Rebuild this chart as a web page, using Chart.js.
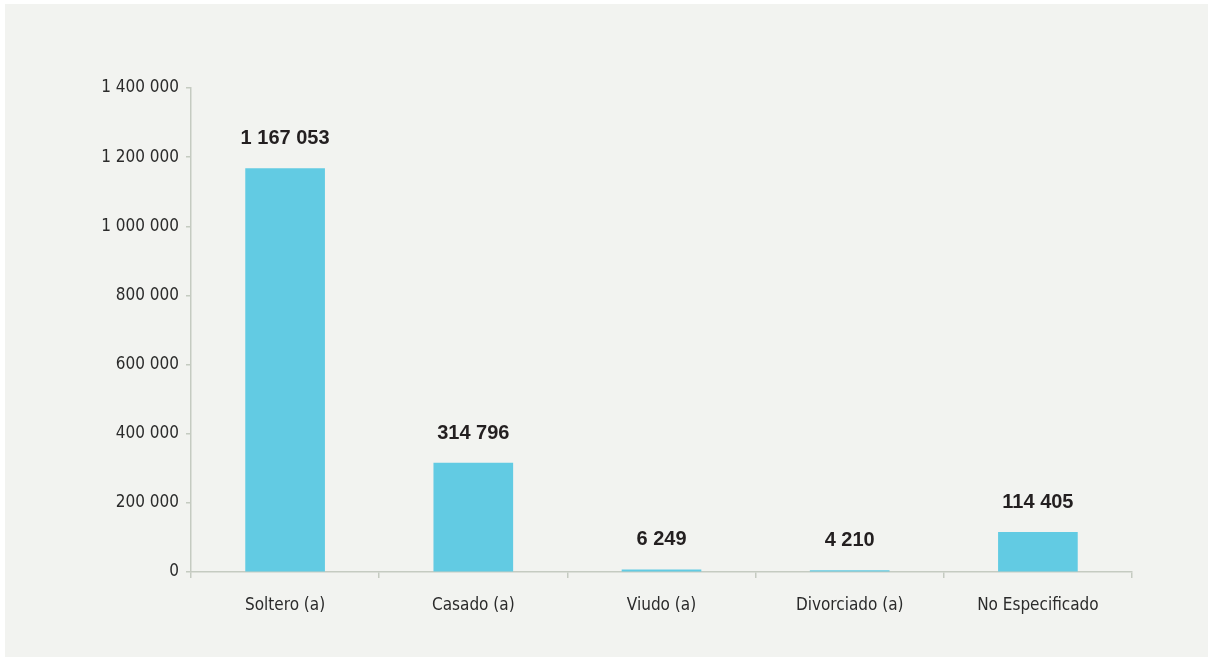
<!DOCTYPE html>
<html>
<head>
<meta charset="utf-8">
<script src="https://cdn.jsdelivr.net/npm/chart.js@4"></script>
<style>
  html, body { margin: 0; padding: 0; background: #ffffff; width: 1210px; height: 658px; overflow: hidden; }
  #panel { position: absolute; left: 5px; top: 4px; width: 1203px; height: 653px; background: #f2f3f0; }
  #c { display: block; }
</style>
</head>
<body>
<div id="panel"><canvas id="c" width="1203" height="653"></canvas></div>
<script>
const categories = ["Soltero (a)", "Casado (a)", "Viudo (a)", "Divorciado (a)", "No Especificado"];
const values = [1167053, 314796, 6249, 4210, 114405];
const yTicks = [0, 200000, 400000, 600000, 800000, 1000000, 1200000, 1400000];

const NARROW = "'Liberation Sans Narrow', 'DejaVu Sans Condensed', 'Liberation Sans', sans-serif";
const AXIS_COLOR = '#c5cbc1';
const TEXT_COLOR = '#2b2b2b';

function fmt(v) {
  return String(v).replace(/\B(?=(\d{3})+(?!\d))/g, ' ');
}

const labelPlugin = {
  id: 'valueLabels',
  afterDatasetsDraw(chart) {
    const ctx = chart.ctx;
    const meta = chart.getDatasetMeta(0);
    ctx.save();
    ctx.font = "bold 20px 'Liberation Sans', Arial, sans-serif";
    ctx.fillStyle = '#231f20';
    ctx.textAlign = 'center';
    ctx.textBaseline = 'middle';
    meta.data.forEach((bar, i) => {
      ctx.fillText(fmt(values[i]), bar.x, bar.y - 30);
    });
    ctx.restore();
  }
};

new Chart(document.getElementById('c'), {
  type: 'bar',
  data: {
    labels: categories,
    datasets: [{
      data: values,
      backgroundColor: '#62cbe3',
      borderWidth: 0,
      barThickness: 79
    }]
  },
  options: {
    responsive: false,
    animation: false,
    devicePixelRatio: 1,
    layout: { padding: { left: 0, top: 84, right: 76, bottom: 0 } },
    plugins: {
      legend: { display: false },
      tooltip: { enabled: false }
    },
    scales: {
      x: {
        offset: true,
        grid: {
          offset: true,
          drawOnChartArea: false,
          drawTicks: true,
          tickLength: 6,
          color: AXIS_COLOR,
          lineWidth: 1.5
        },
        border: { display: true, color: AXIS_COLOR, width: 1.5 },
        ticks: {
          color: TEXT_COLOR,
          font: { family: NARROW, size: 17 },
          padding: 17,
          maxRotation: 0
        },
        afterFit(scale) { scale.height = 85; }
      },
      y: {
        min: 0,
        max: 1400000,
        afterBuildTicks(scale) { scale.ticks = yTicks.map(v => ({ value: v })); },
        grid: {
          drawOnChartArea: false,
          drawTicks: true,
          tickLength: 5,
          color: AXIS_COLOR,
          lineWidth: 1.5
        },
        border: { display: true, color: AXIS_COLOR, width: 1.5 },
        ticks: {
          color: TEXT_COLOR,
          font: { family: NARROW, size: 17 },
          padding: 7,
          callback: (v) => fmt(v)
        },
        afterFit(scale) { scale.width = 186; }
      }
    }
  },
  plugins: [labelPlugin]
});
</script>
</body>
</html>
